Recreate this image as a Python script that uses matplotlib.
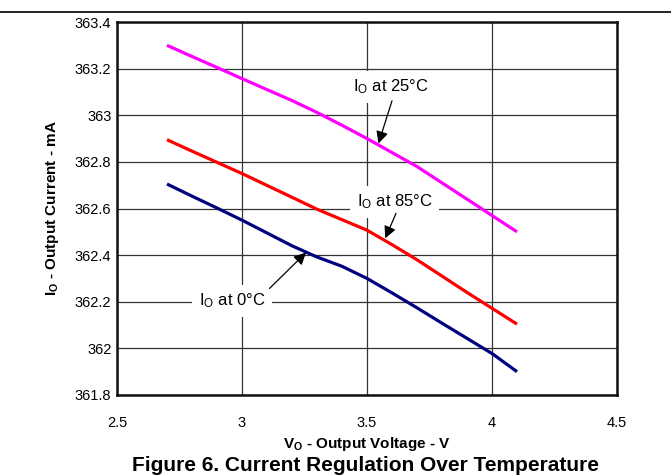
import matplotlib
matplotlib.use("Agg")
import matplotlib.pyplot as plt
from matplotlib.lines import Line2D

plt.rcParams['font.family'] = ['Liberation Sans', 'DejaVu Sans']
plt.rcParams['mathtext.fontset'] = 'custom'
plt.rcParams['mathtext.rm'] = 'Liberation Sans'
plt.rcParams['mathtext.it'] = 'Liberation Sans:italic'
plt.rcParams['mathtext.bf'] = 'Liberation Sans:bold'

voltage = [2.7, 2.8, 2.9, 3.0, 3.1, 3.2, 3.3, 3.4, 3.5, 3.6, 3.7, 3.8, 3.9, 4.0, 4.1]
i_25c = [363.300, 363.252, 363.205, 363.157, 363.110, 363.063, 363.012, 362.957, 362.900,
         362.840, 362.780, 362.710, 362.640, 362.570, 362.500]
i_85c = [362.895, 362.846, 362.798, 362.750, 362.699, 362.648, 362.597, 362.552, 362.507,
         362.445, 362.380, 362.310, 362.240, 362.172, 362.104]
i_0c = [362.705, 362.653, 362.602, 362.550, 362.495, 362.440, 362.392, 362.352, 362.300,
        362.238, 362.174, 362.108, 362.043, 361.978, 361.900]
x_ticks = [2.5, 3.0, 3.5, 4.0, 4.5]
x_tick_labels = ['2.5', '3', '3.5', '4', '4.5']
y_ticks = [361.8, 362.0, 362.2, 362.4, 362.6, 362.8, 363.0, 363.2, 363.4]
y_tick_labels = ['361.8', '362', '362.2', '362.4', '362.6', '362.8', '363', '363.2', '363.4']

W, H = 671, 476
fig = plt.figure(figsize=(W / 100, H / 100), dpi=100)
left, right, top, bottom = 117, 617, 22, 395
ax = fig.add_axes([left / W, 1 - bottom / H, (right - left) / W, (bottom - top) / H])

for vals, col in ((i_25c, '#FF00FF'), (i_85c, '#FF0000'), (i_0c, '#000080')):
    ax.plot(voltage, vals, color=col, lw=2.3, solid_capstyle='butt',
            solid_joinstyle='round', zorder=3)

ax.set_xlim(2.5, 4.5)
ax.set_ylim(361.8, 363.4)
ax.set_xticks(x_ticks)
ax.set_xticklabels(x_tick_labels)
ax.set_yticks(y_ticks)
ax.set_yticklabels(y_tick_labels)
ax.tick_params(length=0, labelsize=10.5, colors='black')
ax.tick_params(axis='x', pad=15)
ax.tick_params(axis='y', pad=4)
ax.grid(True, color='#333333', lw=0.9)
ax.set_axisbelow(True)
for s in ax.spines.values():
    s.set_linewidth(1.8)
    s.set_color('#111111')

ax.set_xlabel(r'V$_\mathbf{O}$ - Output Voltage - V', fontsize=11, fontweight='bold', labelpad=4)
ax.set_ylabel(r'I$_\mathbf{O}$ - Output Current - mA', fontsize=11, fontweight='bold', labelpad=10)

bbox = dict(boxstyle='square,pad=0.4', fc='white', ec='none')
arrow = dict(arrowstyle='-|>', color='black', lw=0.9, mutation_scale=18, shrinkA=0, shrinkB=0)
ax.annotate(r'I$_\mathrm{O}$ at 25°C', xy=(3.546, 362.879), xytext=(3.596, 363.121),
            ha='center', va='center', fontsize=12, bbox=bbox, zorder=5)
ax.annotate('', xy=(3.546, 362.879), xytext=(3.60, 363.062), arrowprops=arrow, zorder=6)
ax.annotate(r'I$_\mathrm{O}$ at 85°C', xy=(3.573, 362.472), xytext=(3.61, 362.629),
            ha='center', va='center', fontsize=12, bbox=bbox, zorder=5)
ax.annotate('', xy=(3.573, 362.472), xytext=(3.616, 362.579), arrowprops=arrow, zorder=6)
ax.annotate(r'I$_\mathrm{O}$ at 0°C', xy=(3.256, 362.411), xytext=(2.961, 362.203),
            ha='center', va='center', fontsize=12, bbox=bbox, zorder=5)
ax.annotate('', xy=(3.256, 362.411), xytext=(3.11, 362.257), arrowprops=arrow, zorder=6)

fig.add_artist(Line2D([0, 1], [1 - 12 / H, 1 - 12 / H], color='black', lw=1.2))
fig.text(365 / W, 1 - 471 / H, 'Figure 6. Current Regulation Over Temperature',
         ha='center', va='baseline', fontsize=15, fontweight='bold')

fig.savefig('out.png', dpi=100)
